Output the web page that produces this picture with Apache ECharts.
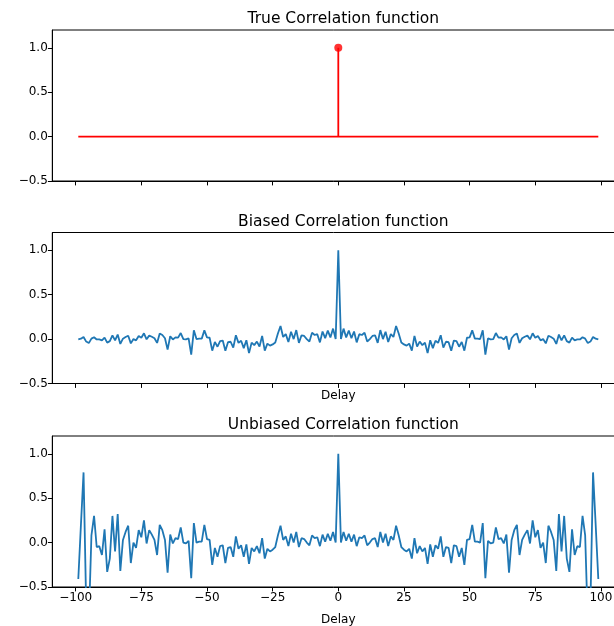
<!DOCTYPE html>
<html>
<head>
<meta charset="utf-8">
<script src="https://cdn.jsdelivr.net/npm/echarts@6/dist/echarts.min.js"></script>
<style>
html,body{margin:0;padding:0;background:#fff;}
#chart{width:614px;height:626px;}
</style>
</head>
<body>
<div id="chart"></div>
<script>
// ---- data ----
const titles = ["True Correlation function", "Biased Correlation function", "Unbiased Correlation function"];
const xTickValues = [-100, -75, -50, -25, 0, 25, 50, 75, 100];
const yTickValues = [-0.5, 0.0, 0.5, 1.0];
const xLabel = "Delay";

const lags = Array.from({length: 199}, (_, i) => i - 99);

// true correlation: baseline over lag range, single spike at 0
const trueBaselineRange = [-99, 99];
const trueSpikeLag = [0];
const trueSpikeValue = [1.0];

const biasedValues = [
-0.004, 0.004, 0.024, -0.028, -0.045, 0.005, 0.021, -0.004, -0.004,
-0.014, 0.017, -0.04, -0.023, 0.042, -0.015, 0.051, -0.054, 0.005, 0.023,
0.038, -0.048, 0.0, -0.014, 0.034, 0.015, 0.065, -0.003, 0.039, 0.026,
0.009, -0.043, 0.064, 0.046, 0.01, -0.119, 0.032, -0.004, 0.019, 0.016,
0.068, 0.0, -0.004, 0.009, -0.176, 0.099, 0.0, 0.005, 0.005, 0.098,
0.02, 0.015, -0.13, -0.032, -0.086, -0.022, -0.017, -0.131, -0.035, -0.03,
-0.096, 0.043, -0.043, -0.019, -0.102, -0.013, -0.158, -0.04, -0.068, -0.028,
-0.084, 0.036, -0.13, -0.051, -0.074, -0.06, -0.038, 0.062, 0.148, 0.024,
0.056, -0.032, 0.082, 0.0, 0.101, -0.043, 0.043, 0.035, 0.0, -0.027,
0.072, 0.046, 0.055, -0.037, 0.085, 0.01, 0.096, 0.019, 0.118, 0.0,
1.0,
0.0, 0.118, 0.019, 0.096, 0.01, 0.085, -0.037, 0.055, 0.046, 0.072,
-0.027, 0.0, 0.035, 0.043, -0.043, 0.101, 0.0, 0.082, -0.032, 0.056,
0.024, 0.148, 0.062, -0.038, -0.06, -0.074, -0.051, -0.13, 0.036, -0.084,
-0.028, -0.068, -0.04, -0.158, -0.013, -0.102, -0.019, -0.043, 0.043, -0.096,
-0.03, -0.035, -0.131, -0.017, -0.022, -0.086, -0.032, -0.13, 0.015, 0.02,
0.098, 0.005, 0.005, 0.0, 0.099, -0.176, 0.009, -0.004, 0.0, 0.068,
0.016, 0.019, -0.004, 0.032, -0.119, 0.01, 0.046, 0.064, -0.043, 0.009,
0.026, 0.039, -0.003, 0.065, 0.015, 0.034, -0.014, 0.0, -0.048, 0.038,
0.023, 0.005, -0.054, 0.051, -0.015, 0.042, -0.023, -0.04, 0.017, -0.014,
-0.004, -0.004, 0.021, 0.005, -0.045, -0.028, 0.024, 0.004, -0.004
];

const unbiasedValues = [
-0.41, 0.2, 0.79, -0.7, -0.9, 0.08, 0.3, -0.05, -0.04,
-0.14, 0.15, -0.33, -0.18, 0.3, -0.1, 0.32, -0.32, 0.03, 0.12,
0.19, -0.23, 0.0, -0.06, 0.14, 0.06, 0.25, -0.01, 0.14, 0.09,
0.03, -0.14, 0.2, 0.14, 0.03, -0.34, 0.09, -0.01, 0.05, 0.04,
0.17, 0.0, -0.01, 0.02, -0.4, 0.22, 0.0, 0.01, 0.01, 0.2,
0.04, 0.03, -0.25, -0.06, -0.16, -0.04, -0.03, -0.23, -0.06, -0.05,
-0.16, 0.07, -0.07, -0.03, -0.16, -0.02, -0.24, -0.06, -0.1, -0.04,
-0.12, 0.05, -0.18, -0.07, -0.1, -0.08, -0.05, 0.08, 0.19, 0.03,
0.07, -0.04, 0.1, 0.0, 0.12, -0.05, 0.05, 0.04, 0.0, -0.03,
0.08, 0.05, 0.06, -0.04, 0.09, 0.01, 0.1, 0.02, 0.12, 0.0,
1.0,
0.0, 0.12, 0.02, 0.1, 0.01, 0.09, -0.04, 0.06, 0.05, 0.08,
-0.03, 0.0, 0.04, 0.05, -0.05, 0.12, 0.0, 0.1, -0.04, 0.07,
0.03, 0.19, 0.08, -0.05, -0.08, -0.1, -0.07, -0.18, 0.05, -0.12,
-0.04, -0.1, -0.06, -0.24, -0.02, -0.16, -0.03, -0.07, 0.07, -0.16,
-0.05, -0.06, -0.23, -0.03, -0.04, -0.16, -0.06, -0.25, 0.03, 0.04,
0.2, 0.01, 0.01, 0.0, 0.22, -0.4, 0.02, -0.01, 0.0, 0.17,
0.04, 0.05, -0.01, 0.09, -0.34, 0.03, 0.14, 0.2, -0.14, 0.03,
0.09, 0.14, -0.01, 0.25, 0.06, 0.14, -0.06, 0.0, -0.23, 0.19,
0.12, 0.03, -0.32, 0.32, -0.1, 0.3, -0.18, -0.33, 0.15, -0.14,
-0.04, -0.05, 0.3, 0.08, -0.9, -0.7, 0.79, 0.2, -0.41
];

// ---- chart ----
const FONT = "DejaVu Sans";
const TXT = "#000";
const BLUE = "#1f77b4";
const RED = "#ff0000";
const X_MIN = -108.9, X_MAX = 108.9;
const Y_MIN = -0.5, Y_MAX = 1.2;
const gridTops = [30, 232.5, 436];
const GRID_H = 151;
const GRID_LEFT = 52.3, GRID_W = 572;
const AX_CENTER = GRID_LEFT + GRID_W / 2;

const minus = s => String(s).replace('-', '\u2212');

const grids = gridTops.map(t => ({
  left: GRID_LEFT, width: GRID_W, top: t, height: GRID_H,
  containLabel: false, outerBoundsMode: 'none',
  show: true, borderColor: '#000', borderWidth: 1, backgroundColor: '#fff'
}));

const xAxes = [0, 1, 2].map(i => ({
  type: 'value', gridIndex: i, min: X_MIN, max: X_MAX,
  axisLine: {show: true, onZero: false, lineStyle: {color: '#000', width: 1}},
  axisTick: {show: true, inside: false, length: 4.4, lineStyle: {color: '#000', width: 1}, customValues: xTickValues},
  axisLabel: {show: i === 2, customValues: xTickValues, margin: 4.5, color: TXT, fontFamily: FONT, fontSize: 12,
    formatter: v => minus(v)},
  splitLine: {show: false},
  name: i === 0 ? '' : xLabel,
  nameLocation: 'middle',
  nameGap: i === 2 ? 27 : 6,
  nameTextStyle: {color: TXT, fontFamily: FONT, fontSize: 12, verticalAlign: 'top'}
}));

const yAxes = [0, 1, 2].map(i => ({
  type: 'value', gridIndex: i, min: Y_MIN, max: Y_MAX,
  axisLine: {show: true, onZero: false, lineStyle: {color: '#000', width: 1}},
  axisTick: {show: true, inside: false, length: 4.4, lineStyle: {color: '#000', width: 1}, customValues: yTickValues},
  axisLabel: {show: true, customValues: yTickValues, margin: 4.5, color: TXT, fontFamily: FONT, fontSize: 12,
    formatter: v => minus(Number(v).toFixed(1))},
  splitLine: {show: false}
}));

const titleTops = [6, 209, 412];
const titleOpts = titles.map((t, i) => ({
  text: t, left: AX_CENTER, top: titleTops[i], textAlign: 'center',
  textStyle: {fontFamily: FONT, fontSize: 15.5, fontWeight: 'normal', color: TXT}
}));

const series = [
  {
    type: 'line', xAxisIndex: 0, yAxisIndex: 0, showSymbol: false, silent: true,
    data: [[trueBaselineRange[0], 0], [trueBaselineRange[1], 0]],
    lineStyle: {color: RED, width: 1.8}, itemStyle: {color: RED}, z: 2
  },
  ...trueSpikeLag.map((lag, j) => ({
    type: 'line', xAxisIndex: 0, yAxisIndex: 0, showSymbol: false, silent: true,
    data: [[lag, 0], [lag, trueSpikeValue[j]]],
    lineStyle: {color: RED, width: 1.8}, itemStyle: {color: RED}, z: 3
  })),
  {
    type: 'scatter', xAxisIndex: 0, yAxisIndex: 0, silent: true,
    data: trueSpikeLag.map((lag, j) => [lag, trueSpikeValue[j]]),
    symbol: 'circle', symbolSize: 8, itemStyle: {color: RED}, z: 4
  },
  {
    type: 'line', xAxisIndex: 1, yAxisIndex: 1, showSymbol: false, silent: true,
    data: lags.map((l, i) => [l, biasedValues[i]]),
    lineStyle: {color: BLUE, width: 1.8}, itemStyle: {color: BLUE}, clip: true
  },
  {
    type: 'line', xAxisIndex: 2, yAxisIndex: 2, showSymbol: false, silent: true,
    data: lags.map((l, i) => [l, unbiasedValues[i]]),
    lineStyle: {color: BLUE, width: 1.8}, itemStyle: {color: BLUE}, clip: true
  }
];

const chart = echarts.init(document.getElementById('chart'), null, {renderer: 'canvas'});
chart.setOption({
  animation: false,
  backgroundColor: '#fff',
  title: titleOpts,
  grid: grids,
  xAxis: xAxes,
  yAxis: yAxes,
  series: series
});
</script>
</body>
</html>
